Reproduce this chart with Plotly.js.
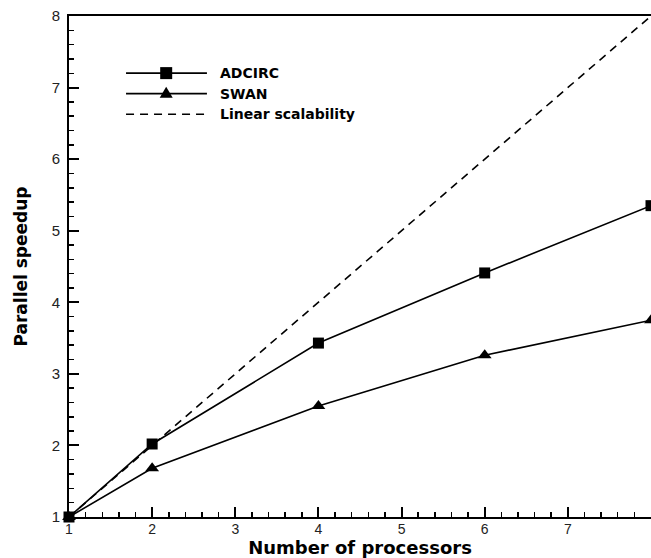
<!DOCTYPE html>
<html>
<head>
<meta charset="utf-8">
<script src="https://cdn.plot.ly/plotly-3.0.1.min.js"></script>
<style>html,body{margin:0;padding:0;background:#fff;}#chart{width:651px;height:558px;}</style>
</head>
<body>
<div id="chart"></div>
<script>
var processors = [1, 2, 4, 6, 8];
var adcirc = [1, 2.02, 3.43, 4.41, 5.35];
var swan = [1, 1.68, 2.55, 3.26, 3.75];
var linear = [1, 2, 4, 6, 8];
var seriesNames = ['ADCIRC', 'SWAN', 'Linear scalability'];
var tickVals = [1, 2, 3, 4, 5, 6, 7, 8];

var FONT = 'Liberation Sans, Arial, sans-serif';
var BOLD = 'DejaVu Sans, Liberation Sans, sans-serif';

var traces = [
  {x: processors, y: linear, mode: 'lines', name: seriesNames[2],
   line: {color: '#000', width: 1.6, dash: '8px,6px'}, cliponaxis: false, showlegend: false},
  {x: processors, y: swan, mode: 'lines+markers', name: seriesNames[1],
   line: {color: '#000', width: 1.6},
   marker: {symbol: 'triangle-up', size: 12, color: '#000'}, cliponaxis: false, showlegend: false},
  {x: processors, y: adcirc, mode: 'lines+markers', name: seriesNames[0],
   line: {color: '#000', width: 1.6},
   marker: {symbol: 'square', size: 11, color: '#000'}, cliponaxis: false, showlegend: false}
];

// custom legend (decoration) in paper coordinates
var legX0 = 0.098, legX1 = 0.237, legXm = 0.167, legTx = 0.256;
var legY = [0.886, 0.845, 0.804];
var shapes = [
  {type: 'line', xref: 'paper', yref: 'paper', x0: legX0, x1: legX1, y0: legY[0], y1: legY[0], line: {color: '#000', width: 1.6}},
  {type: 'rect', xref: 'paper', yref: 'paper', xsizemode: 'pixel', ysizemode: 'pixel',
   xanchor: legXm, yanchor: legY[0], x0: -6, x1: 6, y0: -6, y1: 6, fillcolor: '#000', line: {width: 0}},
  {type: 'line', xref: 'paper', yref: 'paper', x0: legX0, x1: legX1, y0: legY[1], y1: legY[1], line: {color: '#000', width: 1.6}},
  {type: 'path', xref: 'paper', yref: 'paper', xsizemode: 'pixel', ysizemode: 'pixel',
   xanchor: legXm, yanchor: legY[1], path: 'M-6.5,-4 L6.5,-4 L0,7 Z', fillcolor: '#000', line: {width: 0}},
  {type: 'line', xref: 'paper', yref: 'paper', x0: legX0, x1: legX1, y0: legY[2], y1: legY[2], line: {color: '#000', width: 1.6, dash: '8px,6px'}}
];
var annotations = seriesNames.map(function (n, i) {
  return {xref: 'paper', yref: 'paper', x: legTx, y: legY[i], xanchor: 'left', yanchor: 'middle',
          text: '<b>' + n + '</b>', showarrow: false, font: {family: BOLD, size: 14, color: '#000'}};
});

var axisCommon = {
  showgrid: false, zeroline: false, showline: true, linecolor: '#000', linewidth: 2, mirror: true,
  ticks: 'inside', ticklen: 10, tickwidth: 2, tickcolor: '#000',
  tickmode: 'array', tickvals: tickVals, ticktext: tickVals.map(String),
  tickfont: {family: FONT, size: 15, color: '#222'},
  minor: {ticks: 'inside', ticklen: 5, tickwidth: 1.5, tickcolor: '#000', dtick: 0.2, showgrid: false},
  range: [1, 8], fixedrange: true
};

var layout = {
  width: 651, height: 558,
  margin: {l: 69, r: 0, t: 16, b: 41},
  paper_bgcolor: '#fff', plot_bgcolor: '#fff',
  showlegend: false,
  xaxis: Object.assign({}, axisCommon, {
    ticklabelstandoff: -2,
    tickfont: {family: FONT, size: 14, color: '#222'},
    title: {text: '<b>Number of processors</b>', font: {family: BOLD, size: 18, color: '#000'}, standoff: 2}
  }),
  yaxis: Object.assign({}, axisCommon, {
    ticklabelstandoff: 4,
    title: {text: '<b>Parallel speedup</b>', font: {family: BOLD, size: 17, color: '#000'}, standoff: 20}
  }),
  shapes: shapes,
  annotations: annotations
};

Plotly.newPlot('chart', traces, layout, {displayModeBar: false, staticPlot: true});
</script>
</body>
</html>
